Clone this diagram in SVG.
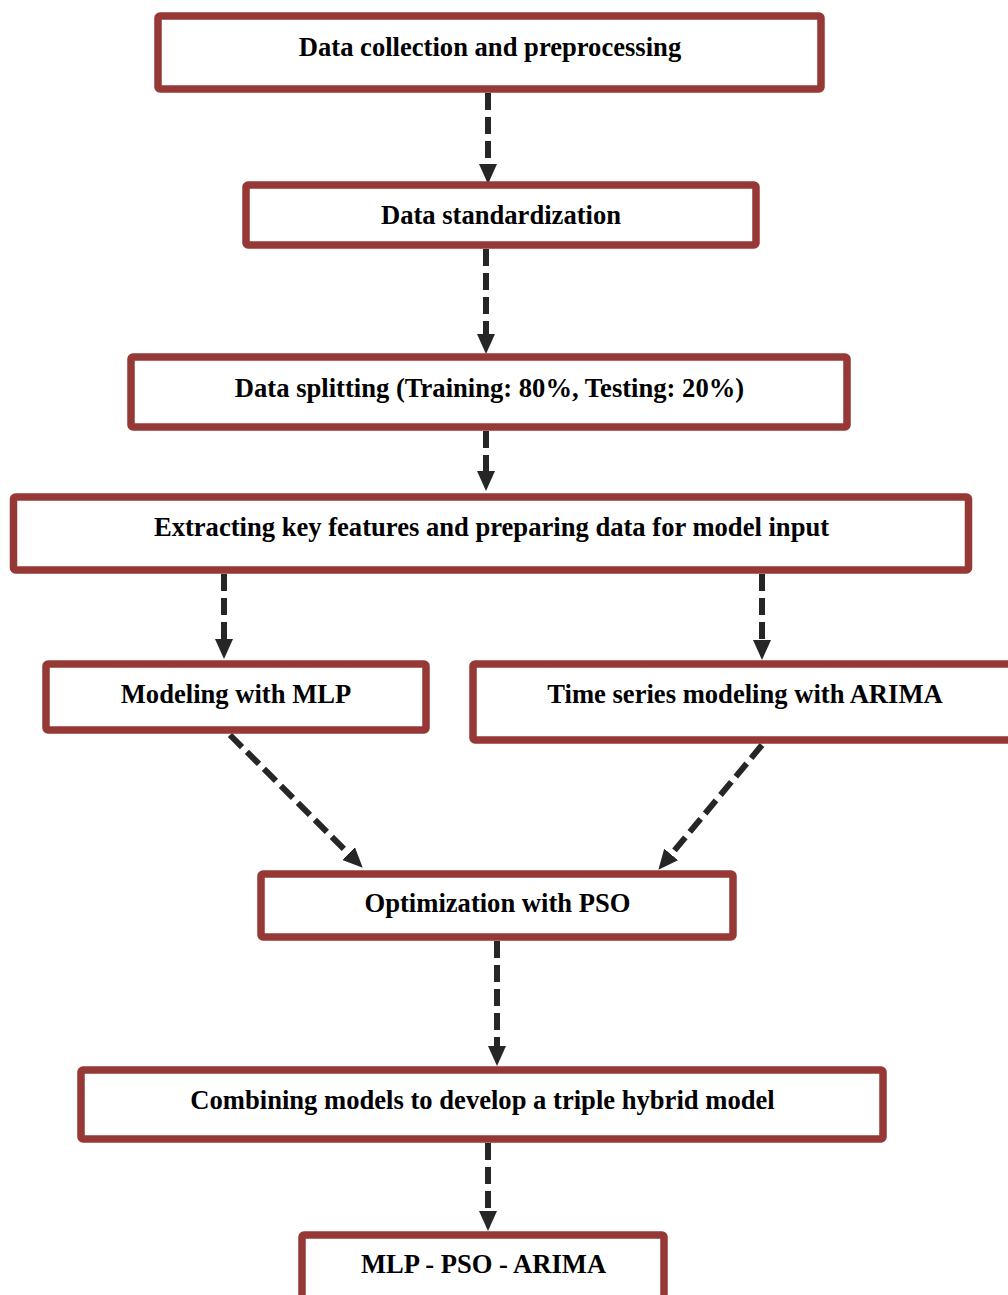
<svg xmlns="http://www.w3.org/2000/svg" width="1008" height="1295" viewBox="0 0 1008 1295">
<style>
.box{fill:#ffffff;stroke:#963836;stroke-width:7.5}
.lbl{font-family:"Liberation Serif","Times New Roman",serif;font-weight:bold;font-size:26.6px;fill:#000;text-anchor:middle}
.conn{fill:none;stroke:#262626;stroke-width:6;stroke-dasharray:17,7;marker-end:url(#ah)}
</style>
<defs>
<marker id="ah" markerUnits="userSpaceOnUse" markerWidth="20" markerHeight="18" refX="1" refY="9" orient="auto">
<path d="M0,0 L20,9 L0,18 z" fill="#262626"/>
</marker>
</defs>
<rect width="1008" height="1295" fill="#ffffff"/>
<g id="connectors">
<line class="conn" x1="488" y1="93" x2="488" y2="165"/>
<line class="conn" x1="486" y1="249" x2="486" y2="335"/>
<line class="conn" x1="486" y1="431" x2="486" y2="472"/>
<line class="conn" x1="224" y1="574" x2="224" y2="640"/>
<line class="conn" x1="762" y1="574" x2="762" y2="641"/>
<line class="conn" x1="230" y1="735" x2="349.3" y2="854.3"/>
<line class="conn" x1="762" y1="745" x2="670.5" y2="855.2"/>
<line class="conn" x1="497" y1="941" x2="497" y2="1047"/>
<line class="conn" x1="488" y1="1143" x2="488" y2="1212"/>
</g>
<g id="n1"><rect class="box" x="158" y="16" width="663" height="73" rx="2"/><text class="lbl" x="490" y="56">Data collection and preprocessing</text></g>
<g id="n2"><rect class="box" x="246" y="185" width="510" height="60" rx="2"/><text class="lbl" x="501" y="224">Data standardization</text></g>
<g id="n3"><rect class="box" x="131" y="357" width="716" height="70" rx="2"/><text class="lbl" x="489.5" y="397">Data splitting (Training: 80%, Testing: 20%)</text></g>
<g id="n4"><rect class="box" x="13.5" y="497" width="955" height="73" rx="2"/><text class="lbl" x="491.5" y="536">Extracting key features and preparing data for model input</text></g>
<g id="n5"><rect class="box" x="46" y="664" width="380" height="66" rx="2"/><text class="lbl" x="236" y="703">Modeling with MLP</text></g>
<g id="n6"><rect class="box" x="473" y="664" width="600" height="76" rx="2"/><text class="lbl" x="745" y="703">Time series modeling with ARIMA</text></g>
<g id="n7"><rect class="box" x="261" y="874" width="472" height="63" rx="2"/><text class="lbl" x="497.5" y="912">Optimization with PSO</text></g>
<g id="n8"><rect class="box" x="81" y="1070" width="802" height="69" rx="2"/><text class="lbl" x="482.5" y="1109">Combining models to develop a triple hybrid model</text></g>
<g id="n9"><rect class="box" x="302" y="1235" width="362" height="90" rx="2"/><text class="lbl" x="483.5" y="1273">MLP - PSO - ARIMA</text></g>
</svg>
